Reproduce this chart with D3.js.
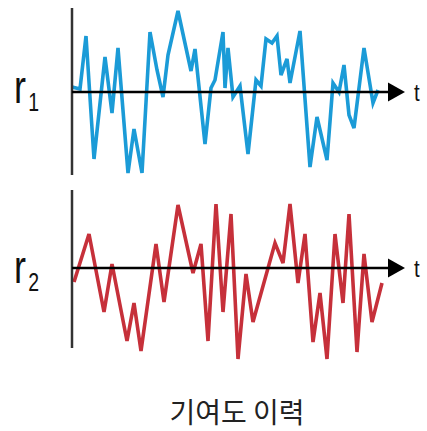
<!DOCTYPE html>
<html><head><meta charset="utf-8">
<script src="https://cdn.jsdelivr.net/npm/d3@7"></script>
<style>html,body{margin:0;padding:0;background:#fff;}</style>
</head><body>
<svg id="c" width="427" height="431"></svg>
<script>
// Series 1 (r1): time positions and values
const t1 = [0,8,14,22,33,40,46,56,62,70,78,85,91,96,106,119,123,133,139,143,151,153,156,161,168,176,184,189,194,200,205,209,215,218,228,238,245,255,261,267,272,277,282,292,301,306];
const r1 = [5,3,56,-67,35,-21,44,-81,-37,-81,60,22,-5,37,81,21,43,-52,4,12,60,4,44,-5,6,-62,12,6,53,49,56,17,33,9,61,-75,-25,-68,9,0,27,-23,-36,44,-11,2];
// Series 2 (r2)
const t2 = [2,17,32,40,55,62,69,84,92,106,121,129,136,144,151,159,166,174,181,203,211,218,226,233,241,248,255,263,271,277,285,292,300,310];
const r2 = [-14,34,-44,4,-73,-35,-83,24,-34,63,-5,24,-73,64,-44,54,-91,-6,-54,25,5,64,-15,34,-74,-25,-91,34,-35,54,-84,14,-54,-15];
const seriesLabels = ["1","2"];
const axisLabel = "t";
const caption = "기여도 이력";

const svg = d3.select("#c");
const x = d3.scaleLinear().domain([0, 333]).range([72, 405]);
const panels = [
  {t: t1, v: r1, color: "#1b9bd7", y: d3.scaleLinear().domain([-83, 84]).range([175, 8]), lab: seriesLabels[0], ly: 103},
  {t: t2, v: r2, color: "#c6303a", y: d3.scaleLinear().domain([-80, 78]).range([348, 190]), lab: seriesLabels[1], ly: 283}
];

panels.forEach(p => {
  const g = svg.append("g");
  const data = p.t.map((d, i) => [d, p.v[i]]);
  const line = d3.line().x(d => x(d[0])).y(d => p.y(d[1]));
  g.append("path").attr("d", line(data)).attr("fill", "none")
    .attr("stroke", p.color).attr("stroke-width", 3.6).attr("stroke-linejoin", "miter");
  const [y0, y1] = p.y.range();
  g.append("line").attr("x1", x(0)).attr("x2", x(0)).attr("y1", y0).attr("y2", y1)
    .attr("stroke", "#333").attr("stroke-width", 2.5);
  const yz = p.y(0);
  const tip = x(333), base = tip - 17;
  g.append("line").attr("x1", x(0)).attr("x2", base + 2).attr("y1", yz).attr("y2", yz)
    .attr("stroke", "#000").attr("stroke-width", 2.5);
  g.append("path").attr("d", `M${base},${yz - 9.5}L${tip},${yz}L${base},${yz + 9.5}Z`).attr("fill", "#000");
  g.append("text").attr("transform", `translate(414,${yz + 9}) scale(0.85,1)`)
    .attr("font-family", "Liberation Sans, Arial, sans-serif")
    .attr("font-size", 24).attr("fill", "#111").text(axisLabel);
  const lt = g.append("text").attr("transform", `translate(14,${p.ly}) scale(0.78,1)`)
    .attr("font-family", "Liberation Sans, Arial, sans-serif").attr("fill", "#111");
  lt.append("tspan").attr("font-size", 46).text("r");
  lt.append("tspan").attr("font-size", 25).attr("dx", 3).attr("dy", 8).text(p.lab);
});

svg.append("text").attr("x", 237).attr("y", 423).attr("text-anchor", "middle")
  .attr("font-family", "Noto Sans CJK KR, sans-serif").attr("font-size", 28).attr("fill", "#222")
  .text(caption);
</script>
</body></html>
